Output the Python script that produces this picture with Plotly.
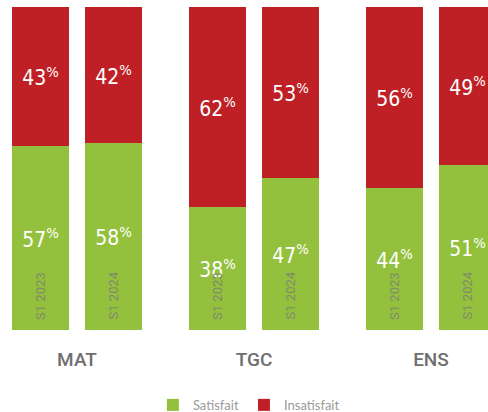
import plotly.graph_objects as go

groups = ["MAT", "TGC", "ENS"]
periods = ["S1 2023", "S1 2024"]
satisfait = [[57, 58], [38, 47], [44, 51]]
insatisfait = [[43, 42], [62, 53], [56, 49]]

GREEN = "#93c13d"
RED = "#be2026"

# layout constants (pixel-derived proportions)
SUB_PITCH = 1.0
GROUP_PITCH = 177 / 73
BAR_W = 57 / 73
X_MIN = -40.5 / 73
X_MAX = X_MIN + 488 / 73

xs, sat_vals, ins_vals, lab = [], [], [], []
for gi, g in enumerate(groups):
    for pi, p in enumerate(periods):
        xs.append(gi * GROUP_PITCH + pi * SUB_PITCH)
        sat_vals.append(satisfait[gi][pi])
        ins_vals.append(insatisfait[gi][pi])
        lab.append(p)

pct_font = dict(family="DejaVu Sans Condensed, Liberation Sans Narrow, sans-serif", size=21, color="white")

fig = go.Figure()
fig.add_trace(go.Bar(
    x=xs, y=sat_vals, width=BAR_W, name="Satisfait",
    marker=dict(color=GREEN, line=dict(width=0)),
    text=[f"{v}<sup>%</sup>" for v in sat_vals],
    textposition="inside", insidetextanchor="middle",
    textfont=pct_font, textangle=0, hoverinfo="skip",
))
fig.add_trace(go.Bar(
    x=xs, y=ins_vals, width=BAR_W, name="Insatisfait",
    marker=dict(color=RED, line=dict(width=0)),
    text=[f"{v}<sup>%</sup>" for v in ins_vals],
    textposition="inside", insidetextanchor="middle",
    textfont=pct_font, textangle=0, hoverinfo="skip",
))

for x, t in zip(xs, lab):
    fig.add_annotation(
        x=x, y=2.5, xref="x", yref="y", text=t, showarrow=False,
        textangle=-90, xanchor="center", yanchor="bottom",
        font=dict(family="Roboto", size=13, color="#7f8a6c"),
    )

fig.update_layout(
    width=488, height=412,
    margin=dict(l=0, r=0, t=7, b=82, autoexpand=False),
    barmode="stack", bargap=0,
    paper_bgcolor="white", plot_bgcolor="white",
    showlegend=True,
    legend=dict(
        orientation="h", x=0.51, xanchor="center", y=-0.232, yanchor="middle",
        font=dict(family="Lato", size=13, color="#9a9a9a"),
        traceorder="normal",
    ),
    xaxis=dict(
        range=[X_MIN, X_MAX], showgrid=False, zeroline=False, showline=False,
        automargin=False,
        tickvals=[gi * GROUP_PITCH + 0.5 for gi in range(len(groups))],
        ticktext=groups, ticks="", ticklabelstandoff=16,
        tickfont=dict(family="Roboto", size=19, color="#6e6e6e", weight=500),
    ),
    yaxis=dict(range=[0, 100], visible=False, automargin=False),
)

fig.write_html(
    "out.html",
    config={"displayModeBar": False},
    post_script="document.body.style.margin='0';document.body.style.overflow='hidden';",
)
